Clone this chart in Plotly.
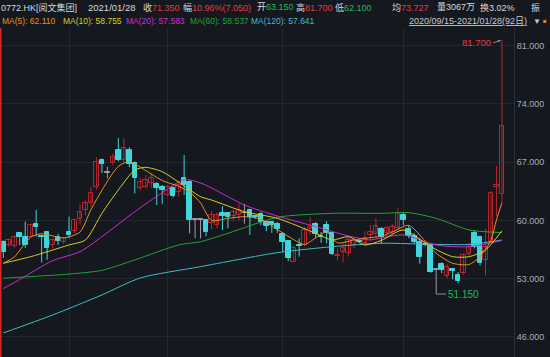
import plotly.graph_objects as go

# ---------------- data ----------------
opens  = [57.45,57.05,56.9,58.45,58.05,58.05,59.55,58.1,58.65,57.05,
          57.95,57.35,58.65,58.75,60.15,61.25,62.05,64.05,67.25,65.7,
          66.85,68.45,67.25,68.45,66.95,63.85,64.05,64.45,64.4,64.05,
          63.05,63.85,63.45,65.05,64.65,60.05,60.05,60.0,59.65,59.45,
          60.9,60.85,60.5,60.7,60.85,61.25,60.5,60.75,59.85,59.85,
          59.55,58.35,57.5,55.05,57.1,57.1,58.95,59.55,58.1,59.45,
          58.45,55.75,56.15,56.05,57.05,57.55,57.25,58.25,58.4,58.95,
          58.45,58.65,59.05,60.65,58.95,58.15,57.45,57.2,57.05,54.05,
          54.75,53.3,54.15,53.45,53.65,55.95,58.5,58.0,55.2,57.4,
          64.0,63.15]
highs  = [57.6,57.85,58.2,58.6,59.85,59.6,61.25,58.25,58.7,57.85,
          58.4,57.95,60.45,60.2,61.9,62.4,64.05,67.6,67.45,66.45,
          68.05,69.9,69.9,68.8,67.1,65.05,65.45,65.7,64.6,64.25,
          64.25,64.05,64.65,67.85,64.8,60.1,60.1,60.05,61.15,60.95,
          61.7,61.0,61.3,62.0,62.0,61.4,60.6,61.0,59.9,59.95,
          59.8,58.6,57.6,56.9,57.85,59.2,60.45,59.8,58.6,59.9,
          58.6,56.65,57.25,57.95,57.95,57.7,58.65,59.45,60.3,59.2,
          59.35,59.6,61.55,61.0,59.35,58.45,57.85,57.4,57.3,54.1,
          54.95,54.75,54.25,53.8,56.05,57.25,58.75,58.2,59.0,63.5,
          66.6,81.7]
lows   = [55.5,56.85,56.7,57.05,56.7,57.9,58.05,54.95,55.25,56.65,
          57.05,57.2,57.85,58.5,59.5,60.6,61.6,63.7,65.7,65.05,
          66.65,67.1,67.0,66.4,63.25,63.6,63.8,63.9,61.85,62.0,
          62.85,62.75,62.85,63.05,58.45,57.85,57.85,58.1,58.95,59.1,
          58.85,59.05,60.0,60.0,59.6,58.25,60.2,59.45,58.7,58.5,
          58.5,56.25,55.1,55.0,55.65,56.9,58.25,57.9,57.3,57.25,
          55.85,55.25,54.95,55.65,56.65,57.3,56.9,57.6,58.0,57.2,
          58.1,58.4,58.85,59.4,57.85,57.25,54.8,56.9,53.7,51.15,
          53.65,53.0,52.9,52.45,53.45,55.75,56.65,54.6,53.4,57.2,
          60.5,62.1]
closes = [56.25,57.65,58.0,58.05,57.05,59.45,59.25,57.95,56.65,57.65,
          57.55,57.85,58.25,60.05,61.05,62.05,63.35,67.05,66.75,65.7,
          67.65,67.25,68.65,66.75,65.15,64.65,64.85,65.15,63.95,63.65,
          64.05,62.95,64.25,64.25,60.05,60.05,60.05,58.6,60.65,60.65,
          60.55,60.45,61.0,61.3,60.85,60.45,60.4,59.85,59.35,59.45,
          58.95,57.45,55.5,56.7,56.95,58.85,59.25,58.35,57.95,58.45,
          55.95,55.9,56.65,57.65,57.65,57.45,57.85,58.65,59.3,58.05,
          59.05,59.25,60.85,60.05,58.15,57.45,55.55,57.05,53.85,54.05,
          54.05,54.45,53.95,52.7,55.85,56.75,56.85,54.9,56.75,63.25,
          64.3,71.35]

# moving-average lines (candle index -> value)
ma5_idx  = [0,2,5,7,11,14,16,19,21,23,25,29,32,34,36,38,41,44,47,50,53,55,57,59,61,64,66,69,71,74,77,79,82,85,87,89,90,91]
ma5_val  = [54.85,55.6,58.0,58.4,57.9,58.6,61.3,64.7,66.5,67.1,66.4,64.8,64.1,63.4,62.1,60.0,60.25,60.45,60.15,58.9,57.7,57.1,57.9,58.6,57.3,57.65,57.85,58.1,58.6,59.4,57.5,56.05,54.85,54.7,55.64,57.65,60.05,62.11]
ma10_idx = [0,5,12,15,18,21,24,26,29,32,36,38,44,50,57,60,63,66,69,73,78,82,85,88,91]
ma10_val = [54.85,55.64,57.05,57.65,60.85,63.66,66.06,66.38,65.86,64.6,62.85,62.45,61.05,60.25,58.45,57.65,58.04,57.05,57.6,58.85,56.84,55.64,55.64,56.44,58.755]
ma20_idx = [0,3,9,14,18,24,29,33,36,38,44,50,57,63,67,69,73,79,85,91]
ma20_val = [51.8,52.9,55.16,56.24,58.04,61.05,63.33,64.9,64.5,63.9,61.85,60.53,59.25,58.13,57.65,57.9,58.25,57.05,56.84,57.583]
ma60_idx = [0,12,18,24,32,36,41,50,60,69,74,79,85,91]
ma60_val = [53.05,53.55,54.0,55.25,57.05,57.44,58.45,60.37,60.85,60.85,60.93,60.25,58.85,58.537]
ma120_idx = [0,9,18,25,36,50,60,69,76,85,91]
ma120_val = [46.47,48.63,51.04,53.08,54.44,56.12,56.84,57.25,57.17,57.11,57.641]

grid_idx    = [12, 30, 51, 73]          # first trading day of Oct, Nov, Dec, Jan
price_ticks = [46, 53, 60, 67, 74, 81]

# ---------------- styles ----------------
BG = "#15181e"
GRID = "#22262d"
RED = "#b8262c"
RED_TXT = "#e8383e"
CYAN = "#3fd6dc"
GRAY = "#9a9ea6"
C_MA5, C_MA10, C_MA20, C_MA60, C_MA120 = "#e8921e", "#d6cf24", "#cf2bd0", "#21a33a", "#3fbcc6"
GREEN_TXT = "#25b85a"
FONT = "Liberation Sans, Noto Sans CJK SC, sans-serif"

n = len(closes)
idx = list(range(n))

fig = go.Figure()

def group(kind):
    out = []
    for i in idx:
        o, c = opens[i], closes[i]
        k = "up" if c > o else ("down" if c < o else "flat")
        if k == kind:
            out.append(i)
    return out

specs = [("up", RED, BG), ("down", CYAN, CYAN), ("flat", GRAY, GRAY)]
for kind, lc, fc in specs:
    ids = group(kind)
    wx, wy = [], []
    for i in ids:
        wx += [i, i, None]
        wy += [lows[i], highs[i], None]
    fig.add_trace(go.Scatter(x=wx, y=wy, mode="lines", line=dict(color=lc, width=1),
                             hoverinfo="skip", showlegend=False))
for kind, lc, fc in specs:
    ids = group(kind)
    base = [min(opens[i], closes[i]) for i in ids]
    hgt = [max(abs(closes[i] - opens[i]), 0.07) for i in ids]
    fig.add_trace(go.Bar(x=ids, y=hgt, base=base, width=0.84,
                         marker=dict(color=fc, line=dict(color=lc, width=1)),
                         hoverinfo="skip", showlegend=False))

for xs, ys, col in [(ma120_idx, ma120_val, C_MA120), (ma60_idx, ma60_val, C_MA60),
                    (ma20_idx, ma20_val, C_MA20), (ma10_idx, ma10_val, C_MA10),
                    (ma5_idx, ma5_val, C_MA5)]:
    fig.add_trace(go.Scatter(x=xs, y=ys, mode="lines",
                             line=dict(color=col, width=1, shape="spline", smoothing=0.7),
                             hoverinfo="skip", showlegend=False))

# max / min annotations
imax = max(idx, key=lambda i: highs[i])
imin = min(idx, key=lambda i: lows[i])
ann = []
ann.append(dict(x=imax, y=highs[imax], xref="x", yref="y", text=f"{highs[imax]:.3f}",
                showarrow=True, ax=-9, ay=3, xanchor="right", arrowhead=2, arrowsize=0.6,
                arrowwidth=1, arrowcolor="#8a8e96", standoff=1,
                font=dict(color=RED_TXT, size=9.5, family=FONT)))
ann.append(dict(x=imin, y=lows[imin], xref="x", yref="y", text=f"{lows[imin]:.3f}",
                showarrow=True, ax=10, ay=0, xanchor="left", arrowhead=0,
                arrowwidth=1, arrowcolor="#8a8e96",
                font=dict(color=GREEN_TXT, size=10, family=FONT)))

# header
PW = 514.0
def hdr(xpx, ypx, text, color="#d6d8dc", size=9):
    ann.append(dict(x=xpx / PW, y=1 + (28 - ypx) / 329.0, xref="paper", yref="paper",
                    text=text, showarrow=False, xanchor="left", yanchor="middle",
                    xshift=-1, font=dict(color=color, size=size, family=FONT)))

def sp(t, c):
    return f'<span style="color:{c}">{t}</span>'

hdr(0, 7, "0772.HK[阅文集团]")
hdr(87, 7, "2021/01/28", size=9.5)
hdr(142, 7, "收" + sp("71.350", RED_TXT))
hdr(182, 7, "幅" + sp("10.96%(7.050)", RED_TXT))
hdr(256, 7, "开" + sp("63.150", GREEN_TXT))
hdr(295, 7, "高" + sp("81.700", RED_TXT))
hdr(334, 7, "低" + sp("62.100", GREEN_TXT))
hdr(391, 7, "均" + sp("73.727", RED_TXT))
hdr(436, 7, "量3067万")
hdr(479, 7, "换3.02%")
hdr(530, 7, "振")

hdr(1, 21, "MA(5): 62.110", C_MA5, 8.5)
hdr(62, 21, "MA(10): 58.755", C_MA10, 8.5)
hdr(125, 21, "MA(20): 57.583", C_MA20, 8.5)
hdr(189, 21, "MA(60): 58.537", C_MA60, 8.5)
hdr(250, 21, "MA(120): 57.641", C_MA120, 8.5)
hdr(408, 21, "<u>2020/09/15-2021/01/28(92日)</u>", "#c8cacf", 9)
hdr(532, 21, "▼", "#c8cacf", 8)
hdr(542, 21, "■", "#d98a1c", 6)

fig.update_layout(
    width=550, height=357,
    margin=dict(l=0, r=36, t=28, b=0),
    paper_bgcolor=BG, plot_bgcolor=BG,
    barmode="overlay", bargap=0,
    showlegend=False,
    annotations=ann,
    shapes=[dict(type="line", xref="paper", yref="paper", x0=0.001, x1=0.001, y0=0, y1=1,
                 line=dict(color="#d42a2a", width=2))],
    xaxis=dict(range=[-0.6, 93.2], showticklabels=False, tickvals=grid_idx, ticks="",
               showgrid=True, gridcolor=GRID, gridwidth=1, zeroline=False, fixedrange=True),
    yaxis=dict(range=[43.58, 83.13], side="right", tickvals=price_ticks, tickformat=".3f",
               showgrid=True, gridcolor=GRID, gridwidth=1, zeroline=False,
               showline=True, linecolor="#2c3038", linewidth=1, ticks="",
               tickfont=dict(color="#a9acb2", size=9, family=FONT), fixedrange=True),
)

fig.write_html("out.html", config={"displayModeBar": False},
               post_script="document.body.style.margin='0';document.body.style.padding='0';"
                           "document.body.style.overflow='hidden';")
